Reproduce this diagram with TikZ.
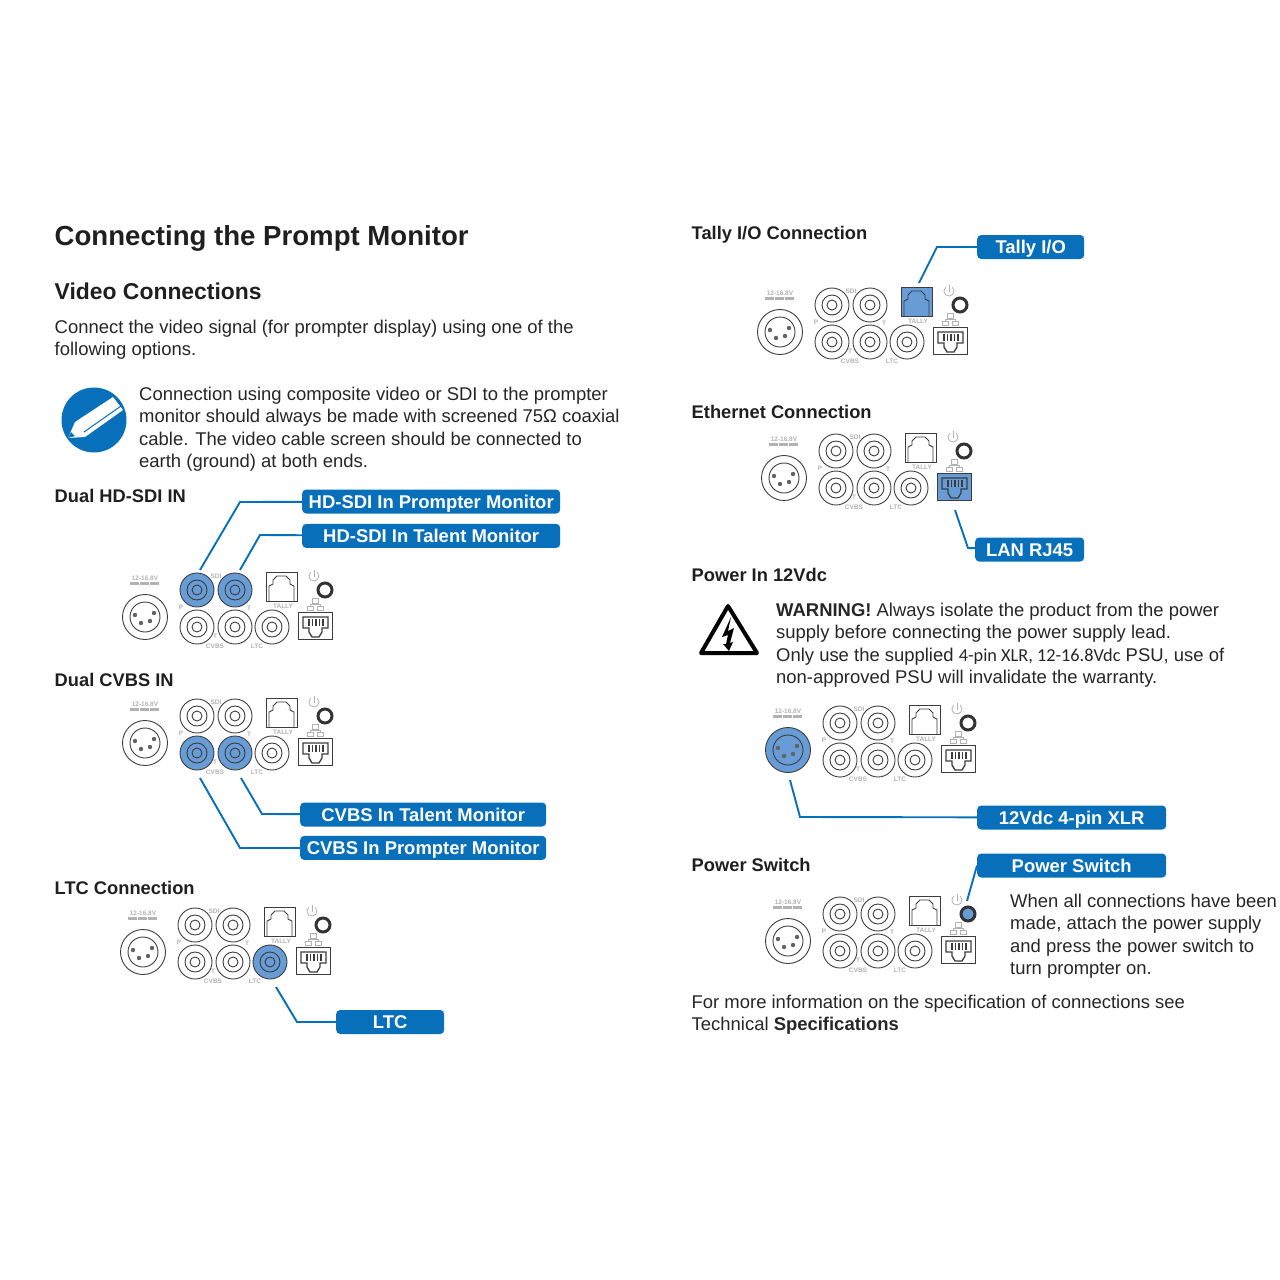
\documentclass[tikz,border=0pt]{standalone}
\usepackage{fontspec}
\setmainfont{Liberation Sans}
\newfontfamily\narrowfont{Carlito}
\usetikzlibrary{positioning,backgrounds,calc}
\definecolor{barblue}{RGB}{8,112,186}
\definecolor{hlblue}{RGB}{104,156,214}
\definecolor{panelgrey}{RGB}{178,178,178}
\definecolor{sockgrey}{RGB}{60,60,60}

\begin{document}
\begin{tikzpicture}[
	x=1pt, y=-1pt,
	font=\fontsize{18.45}{22.35}\selectfont,
	txt/.style={anchor=north west, inner sep=0pt, align=left, text=black!85},
	hd/.style={anchor=base west, inner sep=0pt, font=\fontsize{18.3}{22.5}\selectfont\bfseries, text=black!88},
	bar/.style={fill=barblue, rounded corners=4pt, text=white, inner sep=0pt,
		minimum height=24pt, text height=17pt, text depth=4pt, font=\fontsize{18.45}{22.5}\selectfont\bfseries},
	lead/.style={draw=barblue, line width=1.9pt},
	sock/.style={circle, draw=sockgrey, line width=0.9pt, minimum size=34pt, inner sep=0pt},
	ring/.style={draw=sockgrey, line width=0.9pt},
	hlsock/.style={circle, fill=hlblue, minimum size=34pt, inner sep=0pt},
	tiny/.style={inner sep=0pt, text=panelgrey, font=\fontsize{6.5}{7}\selectfont\bfseries},
	iconline/.style={draw=panelgrey, line width=0.8pt},
	panel/.pic={
		% ---- xlr ----
		\node[circle, draw=sockgrey, line width=0.9pt, minimum size=45pt, inner sep=0pt] (-xlr) at (0,0) {};
		\draw[ring] (0,0) circle (15);
		\foreach \pinx/\piny in {-10/-2, 9/-4, -4/6, 5/4}
			\fill[sockgrey!80] (\pinx,\piny) circle (2.2);
		\node[tiny] at (0,-39) {12-16.8V};
		\foreach \dcx in {-15,-5,5}
			\fill[panelgrey] (\dcx,-35) rectangle ++(9,3);
		% ---- bnc sockets ----
		\foreach \sockname/\sockx/\socky in {sdip/52/-27, sdit/90/-27, cvbp/52/10, cvbt/90/10, ltc/127/10} {
			\node[sock] (-\sockname) at (\sockx,\socky) {};
			\draw[ring] (\sockx,\socky) circle (10) circle (5);
		}
		\node[tiny] at (71,-41) {SDI};
		\node[tiny] at (36,-10) {P};
		\node[tiny] at (104,-9) {T};
		\node[tiny] at (70,19) {T};
		\node[tiny] at (70,29) {CVBS};
		\node[tiny] at (112,29) {LTC};
		% ---- tally ----
		\node[draw=sockgrey, line width=0.8pt, minimum width=31pt, minimum height=29pt, inner sep=0pt] (-tally) at (136.5,-30) {};
		\draw[ring] (124,-16) -- (124,-31) -- (128,-33) -- (128,-37) -- (132,-41) -- (141,-41)
			-- (145,-37) -- (145,-33) -- (149,-31) -- (149,-16);
		\node[tiny] at (138,-11) {TALLY};
		% ---- power switch ----
		\draw[iconline] (172.2,-44.8) arc[start angle=-50, end angle=230, radius=5];
		\draw[iconline] (169,-47) -- (169,-40);
		\node[circle, draw=black!80, line width=3pt, minimum size=14pt, inner sep=0pt] (-pwr) at (180,-27) {};
		% ---- lan ----
		\draw[iconline] (167,-19) rectangle ++(6,5) (162,-11) rectangle ++(6,4) (172,-11) rectangle ++(6,4)
			(170,-14) -- (170,-13) (165,-11) -- (165,-13) -- (175,-13) -- (175,-11);
		\node[draw=sockgrey, line width=1.6pt, minimum width=34pt, minimum height=27pt, inner sep=0pt] (-lan) at (170.5,9) {};
		\draw[sockgrey, line width=1.3pt] (158,0) -- (183,0) -- (183,11) -- (177,11) -- (177,15) -- (174,20)
			-- (167,20) -- (164,15) -- (164,11) -- (158,11) -- cycle;
		\foreach \pinx in {164,167.5,171,174.5,178}
			\draw[sockgrey, line width=1.3pt] (\pinx,2) -- (\pinx,9);
	},
]
\useasboundingbox (0,0) rectangle (1280,1280);

% ---- left column texts ----
\node[hd, font=\fontsize{27.6}{30}\selectfont\bfseries] (title) at (54.5,245) {Connecting the Prompt Monitor};
\node[hd, font=\fontsize{22.9}{26}\selectfont\bfseries] (video) at (54.5,299.5) {Video Connections};
\node[txt] (intro) at (54.5,320) {Connect the video signal (for prompter display) using one of the\\following options.};
\node[txt] (note) at (139,387) {Connection using composite video or SDI to the prompter\\monitor should always be made with screened 75Ω coaxial\\cable. The video cable screen should be connected to\\earth (ground) at both ends.};

% ---- pencil icon ----
\node[circle, fill=barblue, minimum size=65pt, inner sep=0pt] (pencil) at (94,420) {};
\fill[white] (68,438) -- (75,422) -- (113,397) -- (123,410) -- (85,437) -- cycle;
\draw[barblue, line width=1pt] (84,432) -- (121,406);
\fill[barblue] (68,438) -- (71,432) -- (75,436) -- cycle;

% ---- dual hd-sdi ----
\node[hd] (hdhead) at (54.5,502.5) {Dual HD-SDI IN};
\pic (hd) at (145,617) {panel};
\node[bar, minimum width=258pt, anchor=west] (hdprompt) at (302,501.5) {HD-SDI In Prompter Monitor};
\node[bar, minimum width=258pt, below=10pt of hdprompt] (hdtalent) {HD-SDI In Talent Monitor};
\coordinate (hda) at (200,570);
\coordinate (hdb) at (240,570);
\draw[lead] (hda) -- (240,502) -- (hdprompt);
\draw[lead] (hdb) -- (260,535) -- (hdtalent);

% ---- dual cvbs ----
\node[hd] (cvhead) at (54.5,686.5) {Dual CVBS IN};
\pic (cv) at (145,743) {panel};
\node[bar, minimum width=246pt, anchor=west] (cvtalent) at (300,814.5) {CVBS In Talent Monitor};
\node[bar, minimum width=246pt, below=9pt of cvtalent] (cvprompt) {CVBS In Prompter Monitor};
\coordinate (cva) at (200,778);
\coordinate (cvb) at (241,778);
\draw[lead] (cva) -- (240,848) -- (cvprompt);
\draw[lead] (cvb) -- (262,814) -- (cvtalent);

% ---- ltc ----
\node[hd] (ltchead) at (54.5,894.5) {LTC Connection};
\pic (lt) at (143,952) {panel};
\node[bar, minimum width=108pt, anchor=west] (ltcbar) at (336,1022) {LTC};
\coordinate (lta) at (276,987);
\draw[lead] (lta) -- (297,1022) -- (ltcbar);

% ---- tally ----
\node[hd] (tallyhead) at (691.5,239.5) {Tally I/O Connection};
\pic (ta) at (780,332) {panel};
\node[bar, minimum width=107pt, anchor=west] (tallybar) at (977,247) {Tally I/O};
\coordinate (taa) at (919,283);
\draw[lead] (taa) -- (937,247) -- (tallybar);

% ---- ethernet ----
\node[hd] (ethhead) at (691.5,418.5) {Ethernet Connection};
\pic (et) at (784,478) {panel};
\node[bar, minimum width=109pt, anchor=west] (lanbar) at (975,549.5) {LAN RJ45};
\coordinate (eta) at (955,510);
\draw[lead] (eta) -- (968,548) -- (lanbar);

% ---- power in ----
\node[hd] (powerhead) at (691.5,581.5) {Power In 12Vdc};
\node[txt] (warning) at (776,603) {\textbf{WARNING!} Always isolate the product from the power\\supply before connecting the power supply lead.\\Only use the supplied {\narrowfont\fontsize{18.3}{22.35}\selectfont 4-pin XLR, 12-16.8Vdc} PSU, use of\\non-approved PSU will invalidate the warranty.};
\draw[black, line width=4pt, line join=round] (728,606) -- (701,653) -- (757,653) -- cycle;
\fill[black] (731,617) -- (722,637) -- (728,635) -- (726,644) -- (723,644) -- (729,651) -- (733,642) -- (730,643) -- (734,628) -- (728,631) -- cycle;
\pic (pw) at (788,750) {panel};
\node[bar, minimum width=189pt, anchor=west] (xlrbar) at (977,817.5) {12Vdc 4-pin XLR};
\coordinate (pwa) at (790,780);
\draw[lead] (pwa) -- (800,817) -- (xlrbar);

% ---- power switch ----
\node[hd] (switchhead) at (691.5,871) {Power Switch};
\pic (sw) at (788,941) {panel};
\node[bar, minimum width=189pt, anchor=west] (switchbar) at (977,865.5) {Power Switch};
\coordinate (swa) at (967,901);
\draw[lead] (swa) -- (switchbar.west);
\node[txt] (switchtxt) at (1010,894) {When all connections have been\\made, attach the power supply\\and press the power switch to\\turn prompter on.};
\node[txt] (more) at (691.5,995) {For more information on the specification of connections see\\Technical \textbf{Specifications}};

% ---- highlighted sockets ----
\begin{scope}[on background layer]
	\node[hlsock] (hl1) at (hd-sdip) {};
	\node[hlsock] (hl2) at (hd-sdit) {};
	\node[hlsock] (hl3) at (cv-cvbp) {};
	\node[hlsock] (hl4) at (cv-cvbt) {};
	\node[hlsock] (hl5) at (lt-ltc) {};
	\node[fill=hlblue, minimum width=31pt, minimum height=29pt, inner sep=0pt] (hl6) at (ta-tally) {};
	\node[fill=hlblue, minimum width=34pt, minimum height=27pt, inner sep=0pt] (hl7) at (et-lan) {};
	\node[hlsock, minimum size=45pt] (hl8) at (pw-xlr) {};
	\node[hlsock, minimum size=14pt] (hl9) at (sw-pwr) {};
\end{scope}

\end{tikzpicture}
\end{document}
